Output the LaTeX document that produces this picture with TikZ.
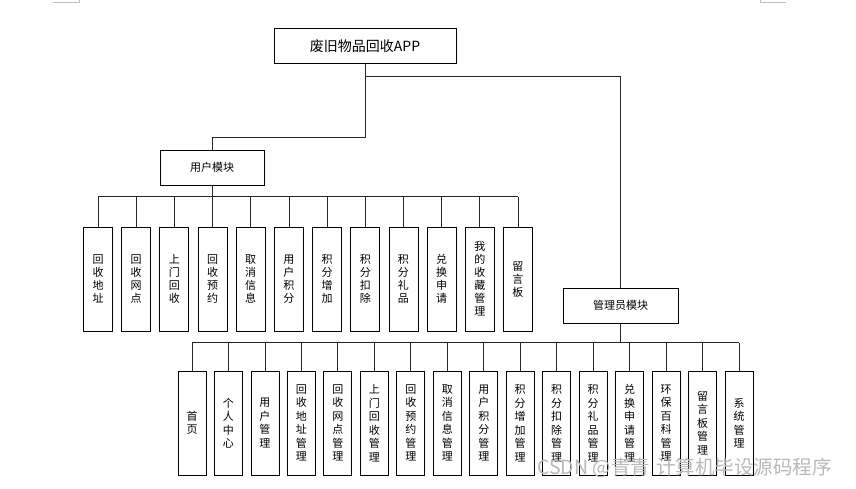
\documentclass[tikz,border=0pt]{standalone}
\usepackage{fontspec}
\setmainfont{Noto Sans CJK SC}
\usetikzlibrary{calc}
\begin{document}
\begin{tikzpicture}[x=1pt,y=-1pt,
  box/.style={draw=black,line width=0.8pt,fill=white,inner sep=0pt,align=center},
  conn/.style={draw=black!85,line width=0.8pt},
  ubox/.style={box,minimum width=29pt,minimum height=104pt,font=\fontsize{11}{13}\selectfont},
  abox/.style={box,minimum width=28pt,minimum height=104pt,font=\fontsize{11}{13.5}\selectfont},
  modbox/.style={box,minimum height=35pt,font=\fontsize{11}{13}\selectfont}]
\useasboundingbox (0,0) rectangle (856,489);
% page corner marks
\draw[gray!50,line width=0.6pt] (53,2) -- (79,2) -- (79,0);
\draw[gray!50,line width=0.6pt] (760,0) -- (760,2) -- (786,2);
% main nodes
\node[box,minimum width=182pt,minimum height=35pt,font=\fontsize{14}{16}\selectfont] (root) at (365,46) {废旧物品回收APP};
\node[modbox,minimum width=104pt] (um) at (212,167.5) {用户模块};
\node[modbox,minimum width=115pt] (am) at (620.5,305.5) {管理员模块};
\coordinate (j1) at (365,137);
\coordinate (j2) at (365,76);
\draw[conn] (root.south) -- (j1) -| (um.north);
\draw[conn] (j2) -| (am.north);
% user children
\foreach \t [count=\i] in {回\\收\\地\\址,回\\收\\网\\点,上\\门\\回\\收,回\\收\\预\\约,取\\消\\信\\息,用\\户\\积\\分,积\\分\\增\\加,积\\分\\扣\\除,积\\分\\礼\\品,兑\\换\\申\\请,我\\的\\收\\藏\\管\\理,留\\言\\板}{
  \node[ubox] (u\i) at ({98+(\i-1)*38.18},279) {\t};
  \draw[conn] (u\i.north) -- ++(0,-30);
}
\draw[conn] (um.south) -- ++(0,12);
\draw[conn] ($(u1.north)+(0,-30)$) -- ($(u12.north)+(0,-30)$);
% admin children
\foreach \t [count=\i] in {首\\页,个\\人\\中\\心,用\\户\\管\\理,回\\收\\地\\址\\管\\理,回\\收\\网\\点\\管\\理,上\\门\\回\\收\\管\\理,回\\收\\预\\约\\管\\理,取\\消\\信\\息\\管\\理,用\\户\\积\\分\\管\\理,积\\分\\增\\加\\管\\理,积\\分\\扣\\除\\管\\理,积\\分\\礼\\品\\管\\理,兑\\换\\申\\请\\管\\理,环\\保\\百\\科\\管\\理,留\\言\\板\\管\\理,系\\统\\管\\理}{
  \node[abox] (a\i) at ({192+(\i-1)*36.47},423) {\t};
  \draw[conn] (a\i.north) -- ++(0,-28);
}
\draw[conn] (am.south) -- ++(0,20);
\draw[conn] ($(a1.north)+(0,-28)$) -- ($(a16.north)+(0,-28)$);
% watermark
\node[text=gray!55,font=\fontsize{19.5}{21}\selectfont,anchor=west,inner sep=0pt] (wm) at (537,468) {CSDN @青青\hspace{6pt}计算机毕设源码程序};
\end{tikzpicture}
\end{document}
